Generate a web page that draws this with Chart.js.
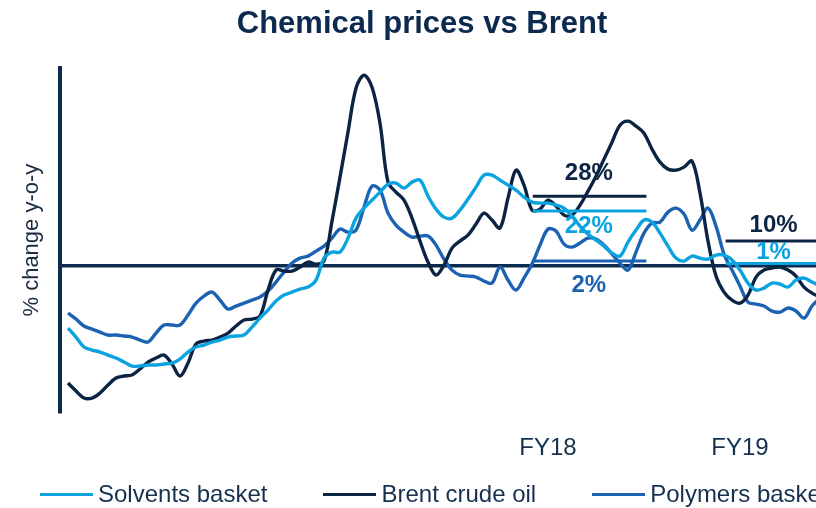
<!DOCTYPE html>
<html>
<head>
<meta charset="utf-8">
<title>Chemical prices vs Brent</title>
<script src="https://cdn.jsdelivr.net/npm/chart.js@4.4.1/dist/chart.umd.min.js"></script>
<style>
  html, body { margin: 0; padding: 0; background: #fff; overflow: hidden; }
  #wrap { position: relative; width: 816px; height: 508px; overflow: hidden; }
  #chart { position: absolute; left: 0; top: 0; }
  #legend {
    position: absolute; left: 40px; top: 480px;
    display: flex; align-items: center; white-space: nowrap;
    font: 24px "Liberation Sans", Arial, sans-serif; line-height: 28px; color: #17304f;
  }
  #legend .item { display: flex; align-items: center; margin-right: 56px; }
  #legend .swatch { width: 53px; height: 3px; margin-right: 5px; }
</style>
</head>
<body>
<div id="wrap">
  <canvas id="chart" width="844" height="508"></canvas>
  <div id="legend"></div>
</div>
<script>
// sample index (roughly half-monthly points)
const samples = Array.from({ length: 95 }, (_, i) => i);

// % change y-o-y
const solvents = [
  -24.8, -28.4, -32.4, -33.6, -34.4, -35.6, -36.8, -38.4, -40, -40,
  -39.6, -39.6, -39.2, -38.8, -37.2, -34.4, -32.4, -31.6, -30.4, -29.6,
  -28.4, -28, -27.6, -24.4, -20.8, -17.6, -14, -11.6, -10.4, -9.2,
  -8.4, -5.6, 3.2, 5.6, 5.6, 11.2, 19.2, 23.2, 26.4, 29.6,
  32.8, 33.2, 31.2, 33.6, 34.4, 28, 22.8, 19.6, 19.2, 22.4,
  26.8, 31.6, 36.4, 36.4, 34.4, 32.4, 30.4, 27.6, 25.6, 25.2,
  25.2, 24.4, 23.2, 20, 16, 12.8, 10.4, 8, 5.2, 4,
  9.6, 14.4, 18.4, 17.6, 13.2, 8, 3.2, 2, 4, 3.2,
  2.8, 4.4, 4.4, 2.4, -1.6, -6.8, -9.6, -8.8, -6.8, -7.2,
  -8.4, -5.6, -4.8, -6.4, -8,
];
const brent = [
  -46.8, -50, -52.8, -52.8, -50.8, -47.6, -44.8, -44, -43.6, -41.2,
  -38.4, -36.8, -35.6, -39.2, -44, -38.8, -31.2, -30, -29.6, -28.4,
  -26.8, -24, -21.6, -21.2, -20, -9.6, -1.6, -2, -2, -0.4,
  1.6, 0.8, 2, 18, 35.6, 53.6, 71.2, 76.4, 71.6, 57.2,
  33.6, 29.6, 26.4, 19.2, 10, 1.6, -3.6, 0.4, 7.2, 10,
  12.4, 16.8, 21.2, 18.4, 15.2, 27.2, 38.4, 32.4, 22.4, 22.8,
  26.4, 24, 20.4, 20.4, 24.4, 30, 36, 42.8, 49.6, 56.4,
  58, 56, 53.2, 46.8, 41.6, 38.8, 38.4, 39.6, 42, 29.2,
  10, -4, -10.4, -13.6, -14.8, -11.6, -4.4, -1.6, -0.8, -0.4,
  -1.6, -4, -8.4, -10.8, -12.4,
];
const polymers = [
  -18.8, -21.2, -24, -25.2, -26.4, -27.6, -27.6, -28, -28.4, -29.6,
  -30.4, -26.8, -23.6, -23.6, -23.6, -19.6, -14.8, -12, -10.4, -13.6,
  -17.2, -16, -14.8, -13.6, -12.4, -10, -6.4, -2.4, 1.2, 3.2,
  4, 6, 8, 11.2, 14.8, 13.6, 14.4, 23.6, 32, 30.4,
  21.2, 16.4, 13.6, 11.6, 12, 12, 8.4, 2.8, -1.6, -3.6,
  -4, -4.4, -6, -6.8, -0.4, -5.6, -9.6, -4.8, 0.8, 8.4,
  14.8, 14, 8.8, 7.6, 9.2, 11.2, 10.8, 8.4, 4.8, 1.2,
  -1.6, 5.6, 13.2, 17.2, 17.6, 21.6, 23.2, 20.8, 14.4, 18.4,
  23.2, 16, 4.8, -1.6, -8, -14.4, -15.2, -16, -18, -18.4,
  -16.8, -18, -20.8, -16, -12.8,
];

// x axis labels and where they sit (sample index)
const periods = ['FY18', 'FY19'];
const periodTicks = [60, 84];

// period averages: solvents, brent, polymers
const fy18Avg = [22, 28, 2];
const fy19Avg = [1, 10, null];
const fy18Span = [58.1, 72.3];
const fy19Span = [82.2, 97];

const names = ['Solvents basket', 'Brent crude oil', 'Polymers basket'];
const colors = ['#0aa3e0', '#0c2444', '#1b62b3'];
const axisColor = '#0d2b4e';

// label placement for the average marks (x in sample index, dy in px)
const avgLabelX = [65.1, 88.2];
const avgLabelDy = [[15, -23, 24], [-11, -16, 0]];

Chart.defaults.font.family = '"Liberation Sans", Arial, sans-serif';

const toPoints = (vals) => vals.map((v, i) => ({ x: samples[i], y: v }));

const seriesSets = [solvents, brent, polymers].map((vals, k) => ({
  label: names[k],
  data: toPoints(vals),
  borderColor: colors[k],
  borderWidth: 3.4,
  pointRadius: 0,
  tension: 0.35,
  fill: false,
  order: 2,
}));

const avgSets = [];
[[fy18Avg, fy18Span], [fy19Avg, fy19Span]].forEach(([avgs, span]) => {
  avgs.forEach((a, k) => {
    if (a === null) return;
    avgSets.push({
      label: names[k] + ' avg',
      data: [{ x: span[0], y: a }, { x: span[1], y: a }],
      borderColor: colors[k],
      borderWidth: 3,
      pointRadius: 0,
      tension: 0,
      fill: false,
      order: 1,
      isAvg: true,
    });
  });
});

const avgLabels = {
  id: 'avgLabels',
  afterDatasetsDraw(chart) {
    const { ctx, scales: { x, y } } = chart;
    ctx.save();
    ctx.font = 'bold 24px "Liberation Sans", Arial, sans-serif';
    ctx.textAlign = 'center';
    ctx.textBaseline = 'middle';
    [fy18Avg, fy19Avg].forEach((avgs, p) => {
      avgs.forEach((a, k) => {
        if (a === null) return;
        ctx.fillStyle = colors[k];
        ctx.fillText(a + '%', x.getPixelForValue(avgLabelX[p]), y.getPixelForValue(a) + avgLabelDy[p][k]);
      });
    });
    ctx.restore();
  },
};

const chart = new Chart(document.getElementById('chart'), {
  type: 'line',
  data: { datasets: [...seriesSets, ...avgSets] },
  options: {
    responsive: false,
    animation: false,
    layout: { padding: 0 },
    plugins: {
      legend: { display: false },
      tooltip: { enabled: false },
      title: {
        display: true,
        text: 'Chemical prices vs Brent',
        color: '#0c2a4f',
        font: { size: 31, weight: 'bold' },
        padding: { top: 6, bottom: 25 },
      },
    },
    scales: {
      x: {
        type: 'linear',
        min: -1,
        max: 97,
        grid: { display: false },
        border: { display: false },
        afterBuildTicks: (axis) => { axis.ticks = periodTicks.map((v) => ({ value: v })); },
        afterFit: (axis) => { axis.height = 96; },
        ticks: {
          autoSkip: false,
          maxRotation: 0,
          padding: 14,
          color: '#17304f',
          font: { size: 24 },
          callback: (value) => periods[periodTicks.indexOf(value)] ?? '',
        },
      },
      y: {
        min: -58.4,
        max: 79.2,
        afterBuildTicks: (axis) => { axis.ticks = [{ value: 0 }]; },
        afterFit: (axis) => { axis.width = 60; },
        ticks: { display: false },
        grid: { color: axisColor, lineWidth: 3.5, drawTicks: false },
        border: { display: true, color: axisColor, width: 4 },
        title: {
          display: true,
          text: '% change y-o-y',
          color: '#1b2b40',
          font: { size: 22 },
          padding: { top: 19, bottom: 0 },
        },
      },
    },
  },
  plugins: [avgLabels],
});

// html legend built from the main series
const legendEl = document.getElementById('legend');
chart.data.datasets.filter((d) => !d.isAvg).forEach((d) => {
  const item = document.createElement('div');
  item.className = 'item';
  const sw = document.createElement('span');
  sw.className = 'swatch';
  sw.style.background = d.borderColor;
  const txt = document.createElement('span');
  txt.textContent = d.label;
  item.appendChild(sw);
  item.appendChild(txt);
  legendEl.appendChild(item);
});
</script>
</body>
</html>
